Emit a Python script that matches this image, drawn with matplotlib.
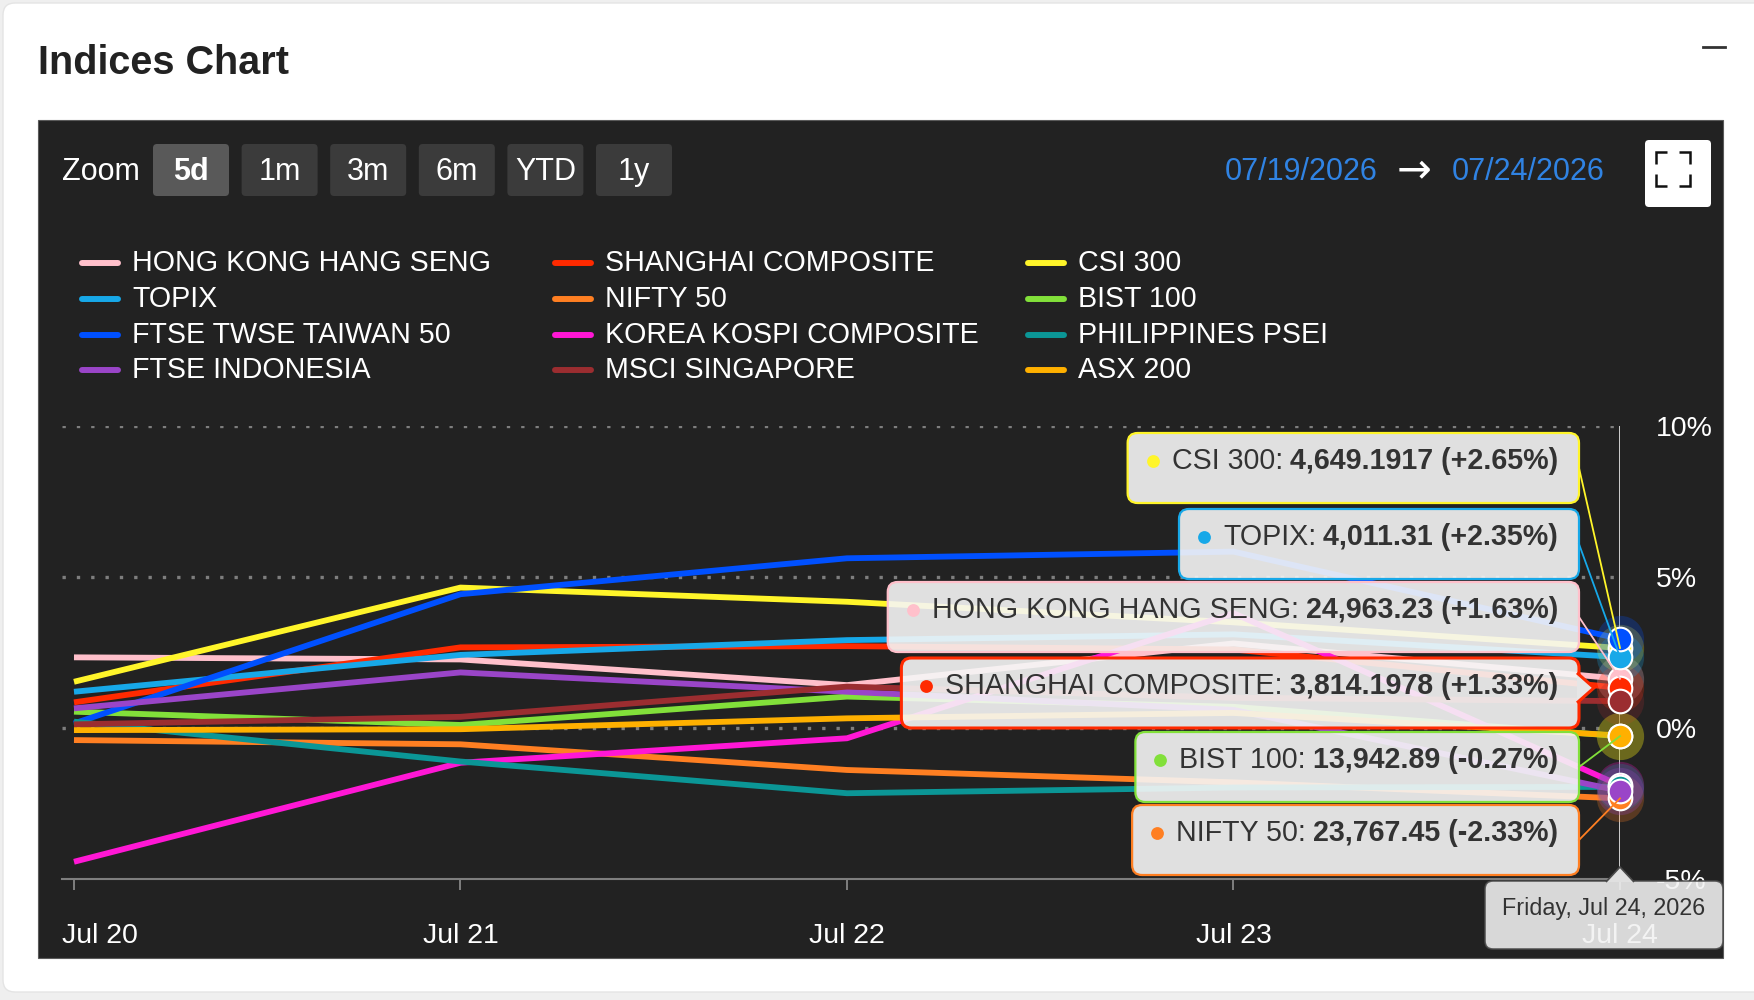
import matplotlib
matplotlib.use("Agg")
import matplotlib.pyplot as plt
from matplotlib.patches import FancyBboxPatch, Polygon, Rectangle
from matplotlib.transforms import ScaledTranslation

plt.rcParams['font.family'] = ['Liberation Sans', 'DejaVu Sans']

##########################################################
# Data (percent change vs. start of range)
days = [0, 1, 2, 3, 4]
day_labels = ['Jul 20', 'Jul 21', 'Jul 22', 'Jul 23', 'Jul 24']

names = ['HONG KONG HANG SENG', 'SHANGHAI COMPOSITE', 'CSI 300',
         'TOPIX', 'NIFTY 50', 'BIST 100',
         'FTSE TWSE TAIWAN 50', 'KOREA KOSPI COMPOSITE', 'PHILIPPINES PSEI',
         'FTSE INDONESIA', 'MSCI SINGAPORE', 'ASX 200']
colors = ['#ffc0cb', '#ff2a00', '#fff52a',
          '#17a8e8', '#ff7f22', '#82e03a',
          '#0050ff', '#ff17d5', '#0b9696',
          '#9a45c8', '#9b2d30', '#ffb000']

hang_seng = [2.34, 2.27, 1.42, 2.80, 1.63]
shanghai = [0.85, 2.67, 2.71, 2.60, 1.33]
csi_300 = [1.53, 4.65, 4.18, 3.50, 2.65]
topix = [1.20, 2.42, 2.91, 3.10, 2.35]
nifty_50 = [-0.40, -0.54, -1.39, -1.80, -2.33]
bist_100 = [0.54, 0.10, 1.04, 0.70, -0.27]
taiwan_50 = [0.15, 4.43, 5.62, 5.84, 2.95]
kospi = [-4.43, -1.15, -0.34, 3.80, -1.90]
psei = [0.21, -1.11, -2.16, -1.97, -1.95]
indonesia = [0.65, 1.84, 1.20, 0.60, -2.08]
msci_sg = [0.12, 0.37, 1.37, 1.00, 0.89]
asx_200 = [-0.07, -0.04, 0.32, 0.50, -0.25]
series = [hang_seng, shanghai, csi_300, topix, nifty_50, bist_100,
          taiwan_50, kospi, psei, indonesia, msci_sg, asx_200]

y_ticks = [-5, 0, 5, 10]

# hover tooltips at the last point
tip_names = ['CSI 300', 'TOPIX', 'HONG KONG HANG SENG', 'SHANGHAI COMPOSITE', 'BIST 100', 'NIFTY 50']
tip_prices = ['4,649.1917', '4,011.31', '24,963.23', '3,814.1978', '13,942.89', '23,767.45']
tip_pcts = [2.65, 2.35, 1.63, 1.33, -0.27, -2.33]
hover_date = 'Friday, Jul 24, 2026'

zoom_buttons = ['5d', '1m', '3m', '6m', 'YTD', '1y']
range_from, range_to = '07/19/2026', '07/24/2026'

##########################################################
# Page / card / toolbar (pixel coordinates)
W, H = 1754, 1000
fig = plt.figure(figsize=(W / 100, H / 100), dpi=100)
fig.patch.set_facecolor('#efefef')

bg = fig.add_axes([0, 0, 1, 1], zorder=0)
bg.set_xlim(0, W)
bg.set_ylim(H, 0)
bg.axis('off')

bg.add_patch(FancyBboxPatch((3, 3), W + 40, 989, boxstyle='round,pad=0,rounding_size=12',
                            fc='white', ec='#e4e4e4', lw=1))
bg.text(38, 63, 'Indices Chart', fontsize=28.5, fontweight='bold', color='#222222', va='center')
bg.plot([1703, 1725], [47, 47], color='#333333', lw=2)

bg.add_patch(Rectangle((38, 120), 1685, 838, fc='#222222', ec='#5a5a5a', lw=0.8))

bg.text(62, 172, 'Zoom', fontsize=22, color='white', va='center')
for i, lab in enumerate(zoom_buttons):
    x0 = 153 + i * 88.6
    active = i == 0
    bg.add_patch(FancyBboxPatch((x0, 144), 76, 52, boxstyle='round,pad=0,rounding_size=4',
                                fc='#595959' if active else '#3b3b3b', ec='none'))
    bg.text(x0 + 38, 172, lab, fontsize=22, color='white', ha='center', va='center',
            fontweight='bold' if active else 'normal')

bg.text(1301, 172, range_from, fontsize=22, color='#3083e3', ha='center', va='center')
bg.text(1414, 170, '\u2192', fontsize=30, color='white', ha='center', va='center',
        family=['DejaVu Sans'])
bg.text(1528, 172, range_to, fontsize=22, color='#3083e3', ha='center', va='center')

# fullscreen button
bg.add_patch(FancyBboxPatch((1645, 140), 66, 67, boxstyle='round,pad=0,rounding_size=4',
                            fc='white', ec='none'))
for cx, cy, dx, dy in [(1656, 152, 1, 1), (1690, 152, -1, 1), (1656, 186, 1, -1), (1690, 186, -1, -1)]:
    bg.plot([cx + 11 * dx, cx, cx], [cy, cy, cy + 12 * dy], color='#111111', lw=1.8,
            solid_capstyle='butt', solid_joinstyle='miter')

# legend, 3 columns
for i, (name, c) in enumerate(zip(names, colors)):
    r, col = divmod(i, 3)
    lx = 82 + col * 473
    ly = 263 + r * 35.8
    bg.plot([lx, lx + 36], [ly, ly], color=c, lw=4.3, solid_capstyle='round')
    bg.text(lx + 50, ly, name, fontsize=20.6, color='white', va='center')

##########################################################
# Chart
ax = fig.add_axes([62 / W, 121 / H, (1620 - 62) / W, 453 / H], zorder=1)
ax.patch.set_alpha(0)
ax.set_xlim(-0.031, 4)
ax.set_ylim(-5, 10)

for v in y_ticks[1:]:
    ax.axhline(v, color='#7e7e7e', lw=2.4, linestyle=(0, (1, 3.3)), dash_capstyle='butt', zorder=1)
ax.axvline(days[-1], color='#cfcfcf', lw=1.4, zorder=1)

for s, c in zip(series, colors):
    ax.plot(days, s, color=c, lw=4.2, solid_joinstyle='round', solid_capstyle='butt',
            clip_on=False, zorder=3)

for s, c in zip(series, colors):
    ax.scatter(days[-1], s[-1], s=34 ** 2, color=c, alpha=0.25, lw=0, clip_on=False, zorder=4)
for s, c in zip(series, colors):
    ax.scatter(days[-1], s[-1], s=17 ** 2, color=c, edgecolors='white', linewidths=1.5,
               clip_on=False, zorder=5)

ax.set_xticks(days, day_labels)
ax.tick_params(axis='x', colors='#7f7f7f', labelcolor='white', labelsize=20.5, length=8,
               width=1.4, pad=24)
ax.yaxis.tick_right()
ax.set_yticks(y_ticks, [f'{v}%' for v in y_ticks])
ax.tick_params(axis='y', length=0, labelcolor='white', labelsize=20.5, pad=26)
for side in ['top', 'left', 'right']:
    ax.spines[side].set_visible(False)
ax.spines['bottom'].set_color('#7f7f7f')
ax.spines['bottom'].set_linewidth(1.5)
ax.spines['bottom'].set_zorder(2)

# first label is pushed right so it starts at the plot edge
shift = (ax.transData.transform((ax.get_xlim()[0], 0))[0] - ax.transData.transform((days[0], 0))[0]) / 100
first = ax.get_xticklabels()[0]
first.set_ha('left')
first.set_transform(first.get_transform() + ScaledTranslation(shift, 0, fig.dpi_scale_trans))

##########################################################
# Tooltips
fg = fig.add_axes([0, 0, 1, 1], zorder=2)
fg.set_xlim(0, W)
fg.set_ylim(H, 0)
fg.axis('off')
fg.patch.set_alpha(0)

renderer = fig.canvas.get_renderer()


def to_px(x, y):
    return fg.transData.inverted().transform(ax.transData.transform((x, y)))


box_right = 1579
box_tops = [433, 509, 582, 658, 732, 805]
box_h = 70
for name, price, pct, top in zip(tip_names, tip_prices, tip_pcts, box_tops):
    idx = names.index(name)
    c = colors[idx]
    ty = top + 28
    t1 = fg.text(0, ty, name + ':', fontsize=20.6, color='#333333', va='center')
    t2 = fg.text(0, ty, f'{price} ({pct:+.2f}%)', fontsize=20.6, fontweight='bold',
                 color='#333333', va='center')
    w1 = t1.get_window_extent(renderer).width
    w2 = t2.get_window_extent(renderer).width
    gap = 7
    left = box_right - 21 - (w1 + gap + w2) - 44
    hovered = name == 'SHANGHAI COMPOSITE'
    lw = 2.2 if hovered else 1.6
    fg.add_patch(FancyBboxPatch((left, top), box_right - left, box_h,
                                boxstyle='round,pad=0,rounding_size=10',
                                fc='#f6f6f6', alpha=0.9, ec='none', zorder=2))
    fg.add_patch(FancyBboxPatch((left, top), box_right - left, box_h,
                                boxstyle='round,pad=0,rounding_size=10',
                                fc='none', ec=c, lw=lw, zorder=3))
    fg.scatter(left + 25, ty, s=85, color=c, lw=0, zorder=4)
    t1.set_position((left + 44, ty))
    t2.set_position((left + 44 + w1 + gap, ty))
    t1.set_zorder(4)
    t2.set_zorder(4)
    mx, my = to_px(days[-1], series[idx][-1])
    if hovered:
        fg.add_patch(Polygon([(box_right - 2, my - 15), (box_right + 15, my), (box_right - 2, my + 15)],
                             closed=False, fc='#e6e6e6', ec=c, lw=lw, zorder=3))
    else:
        fg.plot([box_right, mx], [top + box_h / 2, my], color=c, lw=1.3, zorder=5)

# date box under the crosshair
cx, cy = to_px(days[-1], -5)
fg.add_patch(FancyBboxPatch((1485, 881), 238, 68, boxstyle='round,pad=0,rounding_size=8',
                            fc='#f2f2f2', alpha=0.88, ec='#4a4a4a', lw=1.2, zorder=2))
fg.add_patch(Polygon([(cx - 14, 882), (cx, 867), (cx + 14, 882)], closed=False,
                     fc='#e0e0e0', ec='#4a4a4a', lw=1.2, zorder=3))
fg.text(1604, 909, hover_date, fontsize=16.8, color='#333333', ha='center', va='center', zorder=4)

fig.savefig('out.png', dpi=100, facecolor=fig.get_facecolor())
